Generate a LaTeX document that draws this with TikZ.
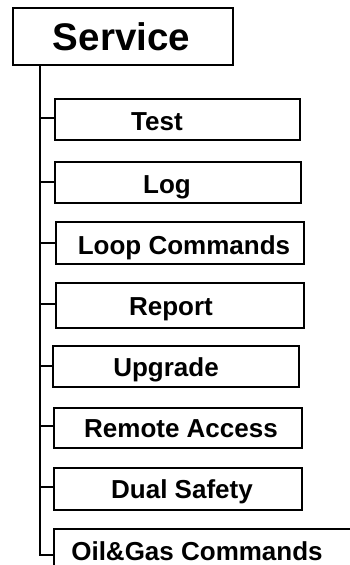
\documentclass[tikz,border=0pt]{standalone}
\usepackage{fontspec}
\setmainfont{Liberation Sans}
\begin{document}
\begin{tikzpicture}[x=1pt,y=-1pt,
  box/.style={draw=black,line width=1.8pt,fill=white,inner sep=0pt,anchor=north west},
  lbl/.style={font=\fontsize{26}{30}\selectfont\bfseries,inner sep=0pt,anchor=base},
  trunk/.style={line width=2.6pt},
  tick/.style={line width=1.8pt}]
\useasboundingbox (0,0) rectangle (349,565);
\fill[white] (0,0) rectangle (349,565);
% root
\node[box,minimum width=220pt,minimum height=57pt] (svc) at (12,7) {};
\node[font=\fontsize{38.5}{44}\selectfont\bfseries,inner sep=0pt,anchor=base] (svct) at (121.5,50) {Service};
% children boxes
\node[box,minimum width=245pt,minimum height=41pt] (b1) at (54,98) {};
\node[box,minimum width=246pt,minimum height=41pt] (b2) at (54,161) {};
\node[box,minimum width=248pt,minimum height=42pt] (b3) at (55,221) {};
\node[box,minimum width=248pt,minimum height=45pt] (b4) at (55,282) {};
\node[box,minimum width=246pt,minimum height=41pt] (b5) at (52,345) {};
\node[box,minimum width=248pt,minimum height=40pt] (b6) at (53,407) {};
\node[box,minimum width=248pt,minimum height=42pt] (b7) at (53,467) {};
\node[box,minimum width=300pt,minimum height=50pt] (b8) at (53,528) {};
% labels
\node[lbl] (t1) at (157,130) {Test};
\node[lbl] (t2) at (167,193) {Log};
\node[lbl] (t3) at (184,254) {Loop Commands};
\node[lbl] (t4) at (171,315) {Report};
\node[lbl] (t5) at (166,376) {Upgrade};
\node[lbl] (t6) at (181,437) {Remote Access};
\node[lbl] (t7) at (182,498) {Dual Safety};
\node[lbl] (t8) at (197,560) {Oil\&Gas Commands};
% trunk
\coordinate (top) at (40,64);
\coordinate (bot) at (40,555);
\draw[trunk] (top) -- (bot) -- (b8.west |- bot);
% ticks
\draw[tick] (40,118) -- (b1.west |- 0,118);
\draw[tick] (40,182) -- (b2.west |- 0,182);
\draw[tick] (40,243) -- (b3.west |- 0,243);
\draw[tick] (40,304) -- (b4.west |- 0,304);
\draw[tick] (40,366) -- (b5.west |- 0,366);
\draw[tick] (40,426) -- (b6.west |- 0,426);
\draw[tick] (40,487) -- (b7.west |- 0,487);
\end{tikzpicture}
\end{document}
